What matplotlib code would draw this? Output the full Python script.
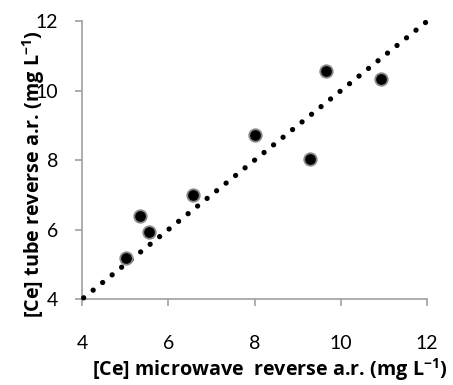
import matplotlib
matplotlib.use("Agg")
import matplotlib.pyplot as plt

x_microwave = [5.03, 5.34, 5.55, 6.57, 8.01, 9.29, 9.66, 10.92]
y_tube = [5.17, 6.39, 5.92, 6.99, 8.72, 8.04, 10.56, 10.34]
line_x = [4, 12]
line_y = [4, 12]
ticks = [4, 6, 8, 10, 12]

plt.rcParams['font.family'] = ['Lato', 'DejaVu Sans']
plt.rcParams['mathtext.fontset'] = 'custom'
plt.rcParams['mathtext.bf'] = 'Open Sans:bold'
plt.rcParams['mathtext.rm'] = 'Open Sans'

fig = plt.figure(figsize=(4.53, 3.85), dpi=100)
ax = fig.add_axes([0.181, 0.223, 0.762, 0.722])

ax.plot(line_x, line_y, color='black', lw=3.8, linestyle=(-0.4, (0.01, 2.3)),
        dash_capstyle='round', zorder=3, clip_on=False)
ax.plot(x_microwave, y_tube, linestyle='none', marker='o', markersize=9,
        markerfacecolor='black', markeredgecolor='#888888', markeredgewidth=1.3,
        zorder=4)

ax.set_xlim(4, 12)
ax.set_ylim(4, 12)
ax.set_xticks(ticks)
ax.set_yticks(ticks)
for s in ['top', 'right']:
    ax.spines[s].set_visible(False)
for s in ['left', 'bottom']:
    ax.spines[s].set_color('#a0a0a0')
    ax.spines[s].set_linewidth(1.2)
ax.tick_params(axis='both', direction='out', length=5, width=1.2, color='#a0a0a0',
               labelsize=14, labelcolor='black')
ax.tick_params(axis='x', pad=21)
ax.tick_params(axis='y', pad=12)

lab_font = ['Open Sans', 'DejaVu Sans']
ax.set_xlabel('[Ce] microwave  reverse a.r. (mg L$^{\\mathbf{-1}}$)', fontsize=14.2,
              fontweight='bold', family=lab_font, labelpad=3, x=0.545)
ax.set_ylabel('[Ce] tube reverse a.r. (mg L$^{\\mathbf{-1}}$)', fontsize=14.2,
              fontweight='bold', family=lab_font, labelpad=-8, y=0.45)

fig.savefig('out.png', dpi=100)
